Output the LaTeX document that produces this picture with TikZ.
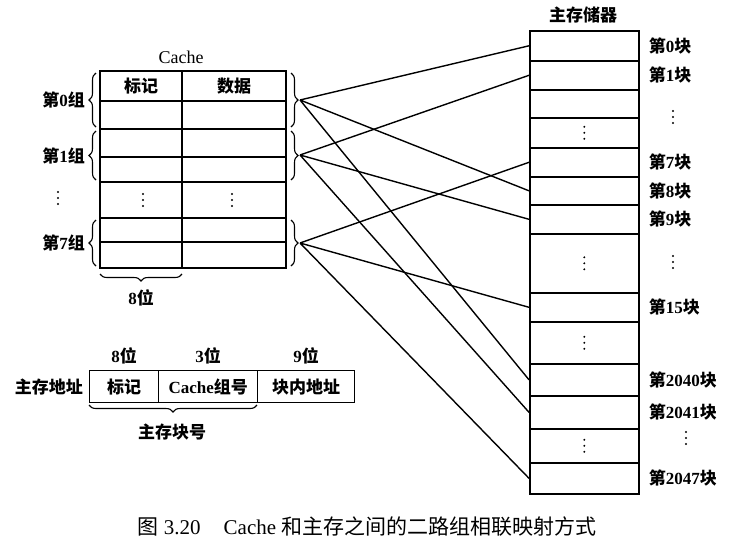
\documentclass[tikz,border=0pt]{standalone}
\usepackage{fontspec}
\setmainfont{Liberation Serif}
\newfontfamily\cjkfont{Noto Sans CJK SC}
\usetikzlibrary{decorations.pathreplacing, positioning}
\tikzset{
  lbl/.style={font=\fontsize{17}{19}\selectfont\bfseries, inner sep=0pt},
  tbl/.style={line width=1.6pt},
  blkbox/.style={draw, line width=1.6pt, inner sep=0pt, minimum width=109pt},
  field/.style={draw, line width=1.4pt, inner sep=0pt, minimum height=32pt,
                anchor=north west, font=\fontsize{17}{19}\selectfont\bfseries},
  brc/.style={decorate, decoration={brace, amplitude=#1}, line width=1.1pt},
  brc/.default=7pt,
  map/.style={line width=1.4pt}
}
\newcommand{\hanzi}[1]{{\cjkfont #1}}
\newcommand{\blk}[1]{\hanzi{第}#1\hanzi{块}}
\newcommand{\grp}[1]{\hanzi{第}#1\hanzi{组}}
\newcommand{\vdts}[1]{\foreach \k in {-6,0,6} \fill ([yshift=\k pt]#1) circle (1.1pt);}

\begin{document}
\begin{tikzpicture}[x=1pt, y=-1pt]
\useasboundingbox (0,0) rectangle (730,549);
\node[font=\fontsize{18}{20}\selectfont, inner sep=0pt] (ctitle) at (181,57) {Cache};
\draw[tbl] (100,71) rectangle (286,268);
\foreach \y in {101,129,157,182,218,242} \draw[tbl] (100,\y) -- (286,\y);
\draw[tbl] (182,71) -- (182,268);
\node[lbl] (tag) at (141,86) {\hanzi{标记}};
\node[lbl] (data) at (234,86) {\hanzi{数据}};
\coordinate (cd1) at (143,200);
\coordinate (cd2) at (232,200);
\vdts{cd1}
\vdts{cd2}
\draw[brc] (96,127) -- (96,73);
\draw[brc] (96,180) -- (96,131);
\draw[brc] (96,266) -- (96,220);
\node[lbl, anchor=east] (s0) at (85,100) {\grp{0}};
\node[lbl, anchor=east] (s1) at (85,156) {\grp{1}};
\coordinate (sd) at (58,198);
\vdts{sd}
\node[lbl, anchor=east] (s7) at (85,243) {\grp{7}};
\draw[brc] (291,73) -- (291,127);
\draw[brc] (291,131) -- (291,180);
\draw[brc] (291,220) -- (291,266);
\coordinate (g0) at (300,100);
\coordinate (g1) at (300,155);
\coordinate (g7) at (300,243);
\draw[brc] (182,274) -- (100,274);
\node[lbl] (w8) at (141,298) {8\hanzi{位}};

\node[lbl] (mtitle) at (583,15) {\hanzi{主存储器}};
\foreach \t/\b/\n in {30/60/b0, 60/89/b1, 89/117/e1, 117/147/e2, 147/176/b7,
    176/204/b8, 204/233/b9, 233/292/e3, 292/321/b15, 321/363/e4, 363/395/b2040,
    395/428/b2041, 428/462/e5, 462/493/b2047}
  \node[blkbox, minimum height={(\b-\t)*1pt}, anchor=north west] (\n) at (529,\t) {};
\foreach \n in {0,1,7,8,9,15,2040,2041,2047}
  \node[lbl, anchor=west, right=9pt of b\n] (l\n) {\blk{\n}};
\foreach \n in {e2,e3,e4,e5} \vdts{\n}
\coordinate (ld1) at (673,117);
\coordinate (ld2) at (673,262);
\coordinate (ld3) at (686,438);
\vdts{ld1}
\vdts{ld2}
\vdts{ld3}

\foreach \g/\p/\q/\r in {0/0/8/2040, 1/1/9/2041, 7/7/15/2047}
  \draw[map] (g\g) -- (b\p.west) (g\g) -- (b\q.west) (g\g) -- (b\r.west);

\node[field, minimum width=69pt] (ftag) at (89,370) {\hanzi{标记}};
\node[field, minimum width=99pt] (fset) at (158,370) {Cache\hanzi{组号}};
\node[field, minimum width=97pt] (foff) at (257,370) {\hanzi{块内地址}};
\node[lbl, above=6pt of ftag] (n8) {8\hanzi{位}};
\node[lbl, above=6pt of fset] (n3) {3\hanzi{位}};
\node[lbl, above=6pt of foff] (n9) {9\hanzi{位}};
\node[lbl, left=6pt of ftag] (addr) {\hanzi{主存地址}};
\draw[brc] (257,405) -- (89,405);
\node[lbl] (blkno) at (172,432) {\hanzi{主存块号}};

\node[font=\fontsize{21}{24}\selectfont, inner sep=0pt] (cap) at (367,527)
  {\hanzi{图} 3.20\hspace{1.1em}Cache \hanzi{和主存之间的二路组相联映射方式}};
\end{tikzpicture}
\end{document}
